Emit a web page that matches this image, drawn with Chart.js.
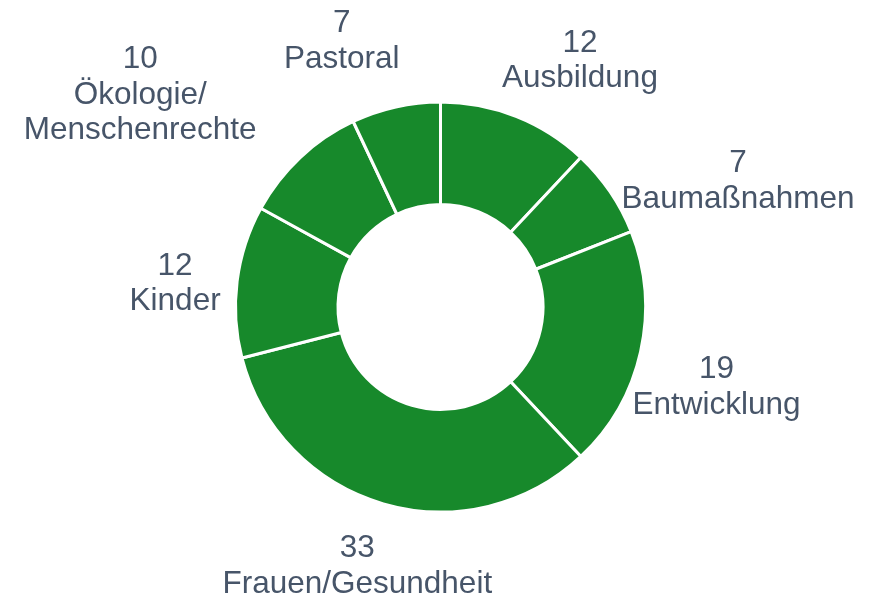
<!DOCTYPE html>
<html>
<head>
<meta charset="utf-8">
<script src="https://cdn.jsdelivr.net/npm/chart.js@4/dist/chart.umd.min.js"></script>
<style>
  html, body { margin: 0; padding: 0; background: #ffffff; }
  #wrap { width: 874px; height: 602px; position: relative; }
</style>
</head>
<body>
<div id="wrap"><canvas id="c" width="874" height="602"></canvas></div>
<script>
// ---- data ----
const categories = ['Ausbildung', 'Baumaßnahmen', 'Entwicklung', 'Frauen/Gesundheit', 'Kinder', ['Ökologie/', 'Menschenrechte'], 'Pastoral'];
const values = [12, 7, 19, 33, 12, 10, 7];

// ---- label layout (offset of each text block from the slice's outer mid-point) ----
const labelOffsets = [[64, -58], [128, -13], [76, 33], [-26, 60], [-62, 0], [-160, -65], [-54, -68]];

const SLICE_COLOR = '#17892b';
const TEXT_COLOR = '#475569';
const FONT_SIZE = 31.5;
const LINE_H = 35.5;

const outsideLabels = {
  id: 'outsideLabels',
  afterDatasetsDraw(chart) {
    const ctx = chart.ctx;
    const meta = chart.getDatasetMeta(0);
    const ds = chart.data.datasets[0];
    ctx.save();
    ctx.font = FONT_SIZE + 'px "Liberation Sans", Arial, sans-serif';
    ctx.fillStyle = TEXT_COLOR;
    ctx.textAlign = 'center';
    ctx.textBaseline = 'alphabetic';
    meta.data.forEach((arc, i) => {
      const p = arc.getProps(['x', 'y', 'startAngle', 'endAngle', 'outerRadius'], true);
      const mid = (p.startAngle + p.endAngle) / 2;
      const ax = p.x + Math.cos(mid) * p.outerRadius;
      const ay = p.y + Math.sin(mid) * p.outerRadius;
      const off = labelOffsets[i];
      const cx = ax + off[0];
      const cy = ay + off[1];
      const lbl = chart.data.labels[i];
      const lines = [String(ds.data[i])].concat(Array.isArray(lbl) ? lbl : [lbl]);
      const n = lines.length;
      const capHalf = FONT_SIZE * 0.716 / 2;
      lines.forEach((t, k) => {
        const by = cy - (n - 1) * LINE_H / 2 + k * LINE_H + capHalf;
        ctx.fillText(t, cx, by);
      });
    });
    ctx.restore();
  }
};

new Chart(document.getElementById('c'), {
  type: 'doughnut',
  data: {
    labels: categories,
    datasets: [{
      data: values,
      backgroundColor: SLICE_COLOR,
      borderColor: '#ffffff',
      borderWidth: 3,
      hoverOffset: 0
    }]
  },
  options: {
    responsive: false,
    animation: false,
    radius: 205,
    cutout: '50%',
    layout: { padding: { left: 235.5, right: 228.5, top: 102, bottom: 90 } },
    plugins: {
      legend: { display: false },
      tooltip: { enabled: false }
    }
  },
  plugins: [outsideLabels]
});
</script>
</body>
</html>
